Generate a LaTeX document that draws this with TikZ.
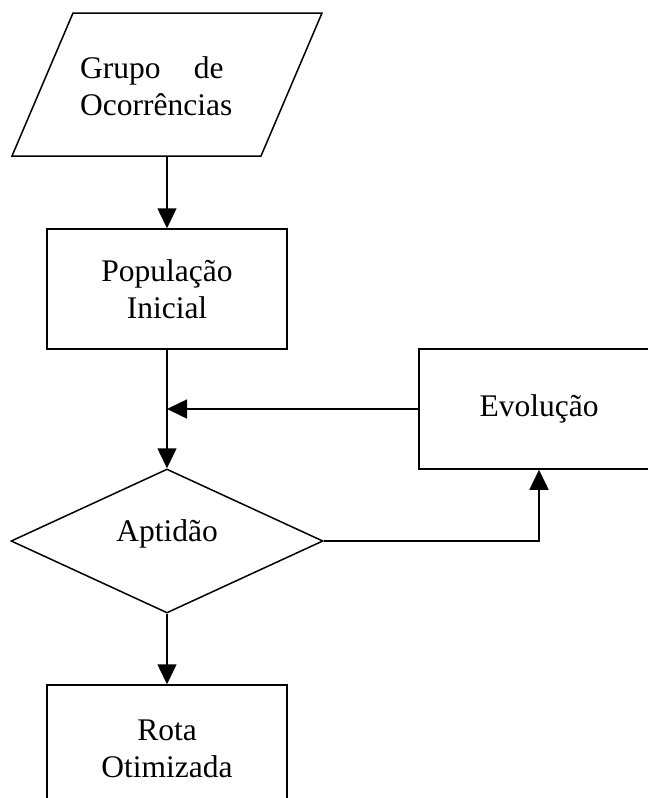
\documentclass[tikz,border=0pt]{standalone}
\usepackage{fontspec}
\setmainfont{Liberation Serif}
\usetikzlibrary{arrows.meta,shapes.geometric}
\begin{document}
\begin{tikzpicture}[x=1pt,y=-1pt,
  every node/.style={font=\fontsize{31.5}{37}\selectfont},
  flowbox/.style={draw,line width=1.5pt,rectangle,minimum width=240pt,minimum height=120pt,inner sep=0pt,align=center},
  decision/.style={draw,line width=1.5pt,diamond,minimum width=312pt,minimum height=144pt,inner sep=0pt},
  link/.style={line width=1.5pt,-{Triangle[length=20pt,width=19pt]}},
  plain/.style={line width=1.5pt}]
\useasboundingbox (0,0) rectangle (648,798);
\clip (0,0) rectangle (648,798);
% input parallelogram
\coordinate (g1) at (73,13);
\coordinate (g2) at (322,13);
\coordinate (g3) at (261,156);
\coordinate (g4) at (12,156);
\draw[plain,line join=miter] (g1) -- (g2) -- (g3) -- (g4) -- cycle;
\node[inner sep=0pt,align=left,anchor=west] (grupo) at (80,86) {Grupo\hspace{1.05em}de\\Ocorrências};
\coordinate (gbot) at (167,156);
% boxes
\node[flowbox] (pop) at (167,289) {População\\Inicial};
\node[flowbox] (evol) at (539,409) {Evolução};
\node[decision] (dia) at (167,541) {};
\node[inner sep=0pt] (apt) at ([yshift=7pt]dia.center) {Aptidão};
\node[flowbox,minimum height=128pt] (rota) at (167,749) {Rota\\Otimizada};
% connectors
\draw[link] (gbot) -- (pop.north);
\draw[link] (pop.south) -- (dia.north);
\draw[link] (evol.west) -- (pop.south |- evol.west);
\draw[link] (dia.east) -| (evol.south);
\draw[link] (dia.south) -- (rota.north);
\end{tikzpicture}
\end{document}
